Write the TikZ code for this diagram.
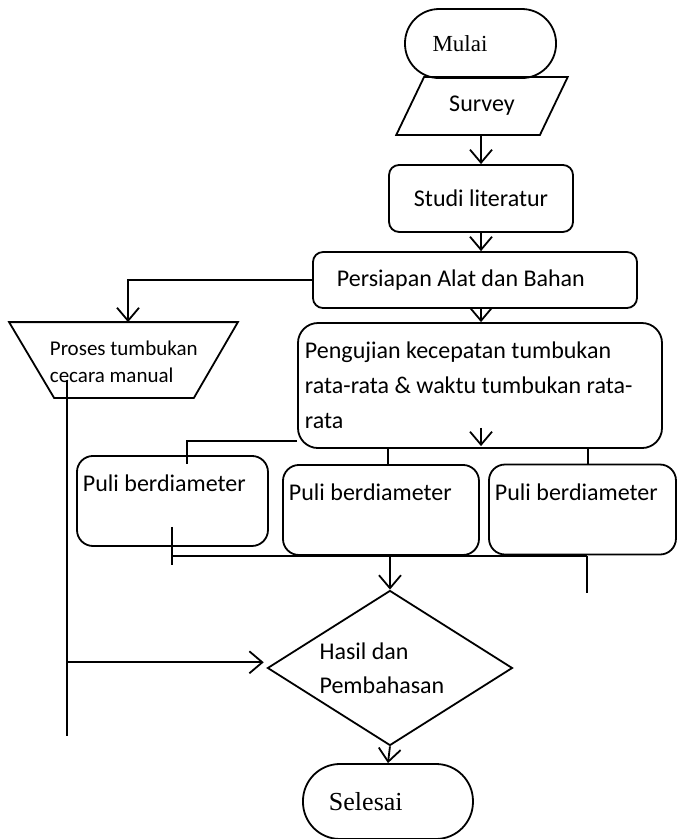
\documentclass[tikz,border=0pt]{standalone}
\usepackage{fontspec}
\setmainfont{Carlito}
\newfontfamily\timesfont{Liberation Serif}
\usetikzlibrary{shapes.geometric,arrows.meta}

\begin{document}
\begin{tikzpicture}[
  line width=0.9pt,
  >={Straight Barb[length=6.5pt,width=11pt]},
  every node/.style={font=\fontsize{12}{17.5}\selectfont},
  termbox/.style={shape=rectangle,draw,rounded corners=0.6cm,align=flush left,inner xsep=13.5pt},
  procbox/.style={shape=rectangle,draw,rounded corners=5pt},
  pulibox/.style={shape=rectangle,draw,rounded corners=8pt,align=flush left,inner xsep=3pt,inner ysep=4pt,text height=14pt,text depth=23pt}
]
\useasboundingbox (0,0) rectangle (11.897,14.744);
% main column
\node[termbox,text width=48pt,minimum width=2.654cm,minimum height=1.213cm,font=\timesfont\fontsize{11.5}{14}\selectfont] (mulai) at (8.444,13.979) {Mulai};
\node[shape=trapezium,trapezium left angle=60,trapezium right angle=120,trapezium stretches=true,draw,minimum width=3.023cm,minimum height=1.019cm] (survey) at (8.470,12.881) {Survey};
\node[procbox,minimum width=3.233cm,minimum height=1.177cm] (studi) at (8.453,11.256) {Studi literatur};
\node[procbox,minimum width=5.694cm,minimum height=0.984cm,align=flush left,text width=138pt,inner xsep=12pt] (persiapan) at (8.347,9.823) {Persiapan Alat dan Bahan};
\node[procbox,rounded corners=10pt,minimum width=6.397cm,minimum height=2.197cm,align=flush left,text width=175pt,inner xsep=3.5pt] (pengujian) at (8.435,7.969) {Pengujian kecepatan tumbukan\\rata-rata \& waktu tumbukan rata-\\rata};
% manual branch
\node[shape=rectangle,inner sep=0pt,minimum width=3.989cm,minimum height=1.300cm] (proses) at (2.170,8.417) {};
\draw (proses.north west) -- (proses.north east) -- ([xshift=-0.773cm]proses.south east) -- ([xshift=0.791cm]proses.south west) -- cycle;
\node[anchor=west,align=flush left,inner sep=0pt,font=\fontsize{10.5}{13.5}\selectfont] (prosestext) at (0.861,8.391) {Proses tumbukan\\cecara manual};
% pulleys
\node[pulibox,text width=89.5pt,minimum width=3.356cm,minimum height=1.582cm] (puli1) at (3.031,5.940) {Puli berdiameter};
\node[pulibox,text width=92pt,minimum width=3.444cm,minimum height=1.582cm] (puli2) at (6.695,5.782) {Puli berdiameter};
\node[pulibox,text width=87.5pt,minimum width=3.286cm,minimum height=1.564cm] (puli3) at (10.236,5.790) {Puli berdiameter};
% end
\node[shape=diamond,draw,inner sep=0pt,aspect=1.6,minimum width=4.305cm,minimum height=2.724cm,align=flush left,font=\fontsize{12}{17}\selectfont] (hasil) at (6.853,3.005) {Hasil dan\\Pembahasan\hspace*{8pt}};
\node[termbox,text width=59pt,minimum width=2.987cm,minimum height=1.318cm,rounded corners=0.65cm,inner xsep=13pt,font=\timesfont\fontsize{13}{15}\selectfont] (selesai) at (6.818,0.659) {Selesai};

\draw[->] (studi.north |- survey.south) to (studi.north);
\draw[->] (studi.south) to (studi.south |- persiapan.north);
\draw[->] (studi.south |- persiapan.south) to (studi.south |- pengujian.north);
\draw[->] (persiapan.west) -| ([xshift=0.08cm]proses.north);
\coordinate (pengujianmid) at (studi.south |- pengujian.south);
\draw[->] ([yshift=0.37cm]pengujianmid) to ([yshift=0.05cm]pengujianmid);

\draw ([yshift=0.14cm]pengujian.south west) -| ([xshift=0.26cm,yshift=-0.16cm]puli1.north);
\coordinate (puli2top) at ([xshift=0.12cm]puli2.north);
\coordinate (puli3top) at ([xshift=0.1cm]puli3.north);
\draw (puli2top) to (puli2top |- pengujian.south);
\draw (puli3top) to (puli3top |- pengujian.south);

\coordinate (joinleft) at (3.023,4.973);
\coordinate (joinright) at (10.315,4.973);
\draw (joinleft) to (joinright);
\draw ([yshift=0.51cm]joinleft) to ([yshift=-0.16cm]joinleft);
\draw (joinright) to ([yshift=-0.65cm]joinright);
\draw[->] (hasil.north |- joinleft) to (hasil.north);

\coordinate (manualtop) at (1.177,8.066);
\coordinate (manualend) at (1.177,1.810);
\draw (manualtop) to (manualend);
\coordinate (manualjoin) at (manualtop |- hasil.west);
\draw[->] ([yshift=0.1cm]manualjoin) to ([xshift=-0.05cm,yshift=0.1cm]hasil.west);
\draw[->] (hasil.south) to (selesai.north);
\end{tikzpicture}
\end{document}
